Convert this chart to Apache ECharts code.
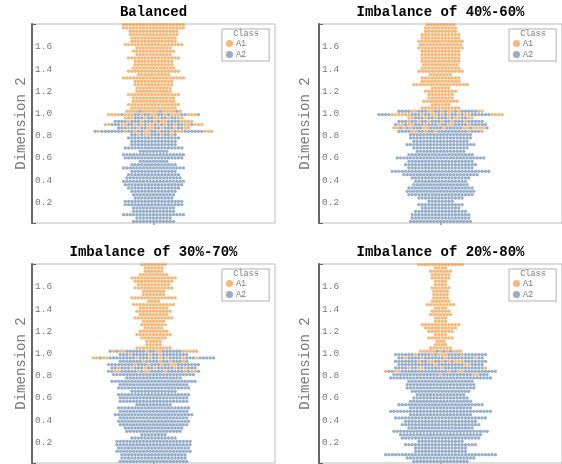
<!DOCTYPE html>
<html><head><meta charset="utf-8">
<style>html,body{margin:0;padding:0;background:#fff}#c{width:562px;height:464px}</style>
<script src="https://cdn.jsdelivr.net/npm/echarts@6/dist/echarts.min.js"></script>
</head><body><div id="c"></div>
<script>
const rowLevels=[1.80,1.77,1.74,1.71,1.68,1.65,1.62,1.59,1.56,1.53,1.50,1.47,1.44,1.41,1.38,1.35,1.32,1.29,1.26,1.23,1.20,1.17,1.14,1.11,1.08,1.05,1.02,0.99,0.96,0.93,0.90,0.87,0.84,0.81,0.78,0.75,0.72,0.69,0.66,0.63,0.60,0.57,0.54,0.51,0.48,0.45,0.42,0.39,0.36,0.33,0.30,0.27,0.24,0.21,0.18,0.15,0.12,0.09,0.06,0.03];
const tickValues=[0.2,0.4,0.6,0.8,1.0,1.2,1.4,1.6];
const titles=['Balanced','Imbalance of 40%-60%','Imbalance of 30%-70%','Imbalance of 20%-80%'];

// each panel reads top to bottom: A1-only row sizes, mixed rows (a=A1, b=A2), A2-only row sizes
const balancedA1=[19,19,15,15,14,14,18,11,13,11,16,12,12,13,16,10,19,12,12,11,11,16,13,13,16,14];
const balancedMix=['aaaabaaaaabaaaaba','aaaabaaabbabbaabbabaaabbaaab','aaabbbabbaabbabbaa','bbbbabbbabbbabaabbbbaaaa','aabbbaabbababaabababbabbaabaaa','bbbabbabbaabbabbbabbaa','babbbbbbbabbabbaabbabbbabaabbbbbbaaa','bbabaabbbabbab'];
const balancedA2=[16,14,14,18,9,19,18,9,14,19,14,16,17,19,18,16,14,13,12,18,18,13,13,19,11,13];

const imb40A1=[9,10,10,12,12,14,13,14,12,12,12,12,11,12,14,7,12,12,17,6,10,8,8,11,6,12];
const imb40Mix=['bbbbaabbbaabbabaababbbbbaa','bbbbaaaaaabbbabbaabababbabaabbbbbbaaaa','aabbbabbabbbabaabbaa','bbbabbabbabbbabbabbbabbbbb','baabaabbbabbbabbaabbbbabbbbb','aabababbbaabbbbabbbbbaabaaaab','bbbbaabbabbabbbbbbbbbabbba'];
const imb40A2=[19,19,17,21,17,15,20,27,20,22,20,30,23,18,16,17,20,21,20,14,8,14,12,16,18,18,19];

const imb30A1=[8,6,6,9,14,12,10,12,7,7,14,4,13,9,11,9,12,7,8,6,9,11,8,5,5,11];
const imb30Mix=['babaabbbbbbabbaabbbbbbaaaaa','bbbabbbbbabbabbbbbbbb','aabaabbbbbbbbabbbabbababbbbabbbabbbbb','bbbbbbbabbbbabbabbbab','bbbbbbbbabbbabbbabbaabbbbbbb','bbabbbabbbabbabbbbbabbabbb','bbaabbbbbabaabbbbabbbbbabaab'];
const imb30A2=[25,17,26,21,22,14,22,21,21,11,22,21,24,21,22,21,18,17,8,14,23,23,22,23,20,20,21];

const imb20A1=[14,4,7,6,6,4,4,6,5,5,5,6,9,4,6,7,4,4,12,10,8,4,8,3,4,7];
const imb20Mix=['aaaaabababaaa','bbbbbbabbbbabaaabbbbabbbbbbb','bbabbbbabbbbbbabbbbbbbbabb','bbbbbbbabbaabbababaaabbbbbbb','bbbbbbbbbbbabbbbbbbbaabbbb','bbbbabbaabbbbbabbbbbbbbbbbba','abbaabbbbbbbbbbbbbbabbaabbbbbbbbbb','bbbbbbbbbbbbbbabbbbbbbbbaabbb'];
const imb20A2=[31,20,21,21,18,15,17,19,26,19,31,19,28,22,24,20,29,25,24,14,22,16,16,34,21,17];

const panels=[[balancedA1,balancedMix,balancedA2],[imb40A1,imb40Mix,imb40A2],[imb30A1,imb30Mix,imb30A2],[imb20A1,imb20Mix,imb20A2]];
const frames=[{l:32,t:24,gap:4},{l:319,t:24,gap:7},{l:32,t:264,gap:4},{l:319,t:264,gap:7}];
const W=243,H=199,MONO='"Liberation Mono",monospace';
const GREY='#7a7a7a',ORANGE='#f58518',BLUE='#4c78a8';

function points(p){
  const rows=[...p[0].map(n=>'a'.repeat(n)),...p[1],...p[2].map(n=>'b'.repeat(n))];
  const a=[],b=[];
  rows.forEach((r,i)=>{[...r].forEach((c,j)=>{(c==='a'?a:b).push([j-(r.length-1)/2,rowLevels[i]]);});});
  return [a,b];
}
const grid=[],xAxis=[],yAxis=[],series=[],title=[],legend=[];
frames.forEach((f,i)=>{
  grid.push({left:f.l,top:f.t,width:W,height:H,show:true,borderColor:'#bbbbbb',borderWidth:1,backgroundColor:'#fff'});
  xAxis.push({gridIndex:i,type:'value',min:-36.5,max:36.5,position:'bottom',
    axisLine:{show:false},axisLabel:{show:false},splitLine:{show:false},
    axisTick:{show:true,length:2,customValues:[0],lineStyle:{color:'#aaaaaa',width:2}}});
  yAxis.push({gridIndex:i,type:'value',position:'left',min:0.015,max:1.805,name:'Dimension 2',nameLocation:'middle',nameGap:f.gap,
    nameTextStyle:{fontFamily:MONO,fontSize:14,color:GREY},
    axisLine:{show:true,onZero:false,lineStyle:{color:'#666',width:2}},
    axisTick:{show:true,inside:true,length:4,customValues:[0.015,1.805],lineStyle:{color:'#666',width:1}},
    axisLabel:{inside:true,margin:3,customValues:tickValues,fontFamily:MONO,fontSize:9.5,color:GREY,formatter:v=>v.toFixed(1),showMinLabel:true,showMaxLabel:true},
    splitLine:{show:false}});
  const [a,b]=points(panels[i]);
  const s=(name,data,color)=>({name,type:'scatter',xAxisIndex:i,yAxisIndex:i,data,symbol:'circle',symbolSize:3.3,clip:false,silent:true,animation:false,itemStyle:{color,opacity:0.6}});
  series.push(s('A1',a,ORANGE),s('A2',b,BLUE));
  title.push({text:titles[i],left:f.l+W/2,top:f.t-19,textAlign:'center',textStyle:{fontFamily:MONO,fontSize:14,fontWeight:'bold',color:'#000'},padding:0});
  title.push({text:'Class',left:f.l+W-29,top:f.t+5,textAlign:'center',textStyle:{fontFamily:MONO,fontSize:8.5,fontWeight:'normal',color:GREY},padding:0,z:20});
  legend.push({show:true,orient:'vertical',left:f.l+190,top:f.t+5,padding:[10,23,2,4],itemWidth:7,itemHeight:7,itemGap:2,icon:'circle',selectedMode:false,
    backgroundColor:'#fff',borderColor:'#cccccc',borderWidth:1.5,
    textStyle:{fontFamily:MONO,fontSize:8.5,color:GREY,padding:[0,0,0,-2]},data:['A1','A2']});
});
const chart=echarts.init(document.getElementById('c'),null,{renderer:'canvas'});
chart.setOption({animation:false,backgroundColor:'#fff',grid,xAxis,yAxis,series,title,legend});
</script></body></html>
